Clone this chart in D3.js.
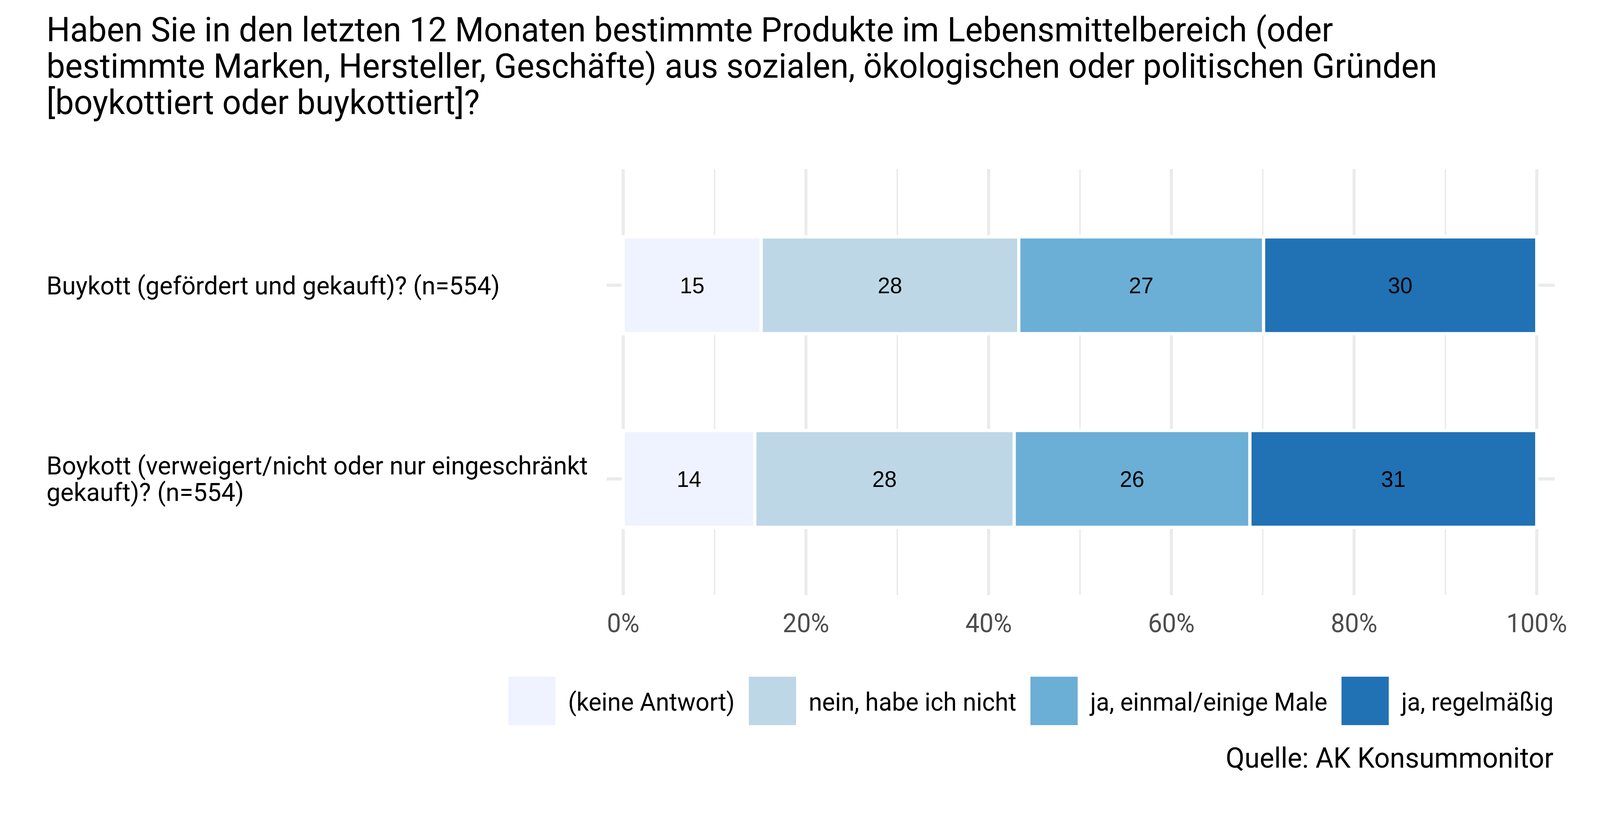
<!DOCTYPE html>
<html>
<head>
<meta charset="utf-8">
<script src="https://cdn.jsdelivr.net/npm/d3@7"></script>
<style>
  html, body { margin: 0; padding: 0; background: #fff; overflow: hidden; }
  svg { display: block; width: 100vw; height: 100vh; }
  text { font-family: Roboto, "Noto Sans", sans-serif; }
</style>
</head>
<body>
<svg id="chart"></svg>
<script>
const titleLines = [
  "Haben Sie in den letzten 12 Monaten bestimmte Produkte im Lebensmittelbereich (oder",
  "bestimmte Marken, Hersteller, Geschäfte) aus sozialen, ökologischen oder politischen Gründen",
  "[boykottiert oder buykottiert]?"
];
const categories = ["buykott", "boykott"];
const categoryLabels = [
  ["Buykott (gefördert und gekauft)? (n=554)"],
  ["Boykott (verweigert/nicht oder nur eingeschränkt", "gekauft)? (n=554)"]
];
const answers = ["(keine Antwort)", "nein, habe ich nicht", "ja, einmal/einige Male", "ja, regelmäßig"];
const colors = ["#eff3ff", "#bdd7e7", "#6baed6", "#2171b5"];
// percent per answer, same order as answers
const buykottValues = [15.1, 28.2, 26.8, 29.9];
const boykottValues = [14.4, 28.4, 25.8, 31.4];
const xTicks = [0, 20, 40, 60, 80, 100];
const xMinorTicks = [10, 30, 50, 70, 90];
const caption = "Quelle: AK Konsummonitor";

const width = 4200, height = 2100;
const panel = {left: 1592, right: 4081, top: 433, bottom: 1524};

// viewBox stretched over the whole window so nothing is cut off
const svg = d3.select("#chart")
    .attr("viewBox", [0, 0, width, height])
    .attr("preserveAspectRatio", "none");

svg.append("rect")
    .attr("width", width)
    .attr("height", height)
    .attr("fill", "#fff");

const x = d3.scaleLinear()
    .domain([0, 100])
    .range([1636, 4034]);

const y = d3.scaleBand()
    .domain(categories)
    .range([panel.top, panel.bottom])
    .paddingInner(0.5)
    .paddingOuter(0.35);

// stack the rows
const rows = [buykottValues, boykottValues].map((vals, i) => {
    let acc = 0;
    return vals.map((v, j) => {
        const seg = {cat: categories[i], answer: j, value: v, x0: acc, x1: acc + v};
        acc += v;
        return seg;
    });
});

// grid
const grid = svg.append("g");
grid.selectAll(".hgrid")
    .data(categories)
    .join("line")
    .attr("x1", panel.left)
    .attr("x2", panel.right)
    .attr("y1", d => y(d) + y.bandwidth() / 2)
    .attr("y2", d => y(d) + y.bandwidth() / 2)
    .attr("stroke", "#ebebeb")
    .attr("stroke-width", 8);

grid.selectAll(".minor")
    .data(xMinorTicks)
    .join("line")
    .attr("x1", d => x(d))
    .attr("x2", d => x(d))
    .attr("y1", panel.top)
    .attr("y2", panel.bottom)
    .attr("stroke", "#ebebeb")
    .attr("stroke-width", 4);

grid.selectAll(".major")
    .data(xTicks)
    .join("line")
    .attr("x1", d => x(d))
    .attr("x2", d => x(d))
    .attr("y1", panel.top)
    .attr("y2", panel.bottom)
    .attr("stroke", "#ebebeb")
    .attr("stroke-width", 8);

// bars
const bars = svg.append("g");
bars.selectAll("rect")
    .data(rows.flat())
    .join("rect")
    .attr("x", d => x(d.x0))
    .attr("width", d => x(d.x1) - x(d.x0))
    .attr("y", d => y(d.cat))
    .attr("height", y.bandwidth())
    .attr("fill", d => colors[d.answer])
    .attr("stroke", "#fff")
    .attr("stroke-width", 8.4);

bars.selectAll("text")
    .data(rows.flat())
    .join("text")
    .attr("x", d => (x(d.x0) + x(d.x1)) / 2)
    .attr("y", d => y(d.cat) + y.bandwidth() / 2)
    .attr("dy", "0.36em")
    .attr("text-anchor", "middle")
    .style("font-family", "'Liberation Sans', Arial, sans-serif")
    .style("font-size", "58px")
    .attr("fill", "#000")
    .text(d => Math.round(d.value));

// x axis labels
svg.append("g")
    .selectAll("text")
    .data(xTicks)
    .join("text")
    .attr("x", d => x(d))
    .attr("y", 1619)
    .attr("text-anchor", "middle")
    .style("font-size", "66px")
    .attr("fill", "#4d4d4d")
    .text(d => d + "%");

// y axis labels
const yLab = svg.append("g");
categories.forEach((c, i) => {
    const lines = categoryLabels[i];
    const cy = y(c) + y.bandwidth() / 2;
    const lh = 68;
    const first = cy + 23 - (lines.length - 1) * lh / 2;
    const t = yLab.append("text")
        .attr("x", 122)
        .attr("y", first)
        .style("font-size", "65.5px")
        .attr("fill", "#000");
    lines.forEach((l, k) => {
        t.append("tspan")
            .attr("x", 122)
            .attr("y", first + k * lh)
            .text(l);
    });
});

// title
const title = svg.append("g");
titleLines.forEach((l, k) => {
    title.append("text")
        .attr("x", 122)
        .attr("y", 106 + k * 93)
        .style("font-size", "87px")
        .attr("fill", "#000")
        .text(l);
});

// legend, right aligned
const legend = svg.append("g");
const keySize = 124, keyGap = 33, itemGap = 37, legendRight = 4078;
const items = answers.map((a, i) => {
    const t = legend.append("text")
        .attr("y", 1820)
        .style("font-size", "64px")
        .attr("fill", "#000")
        .text(a);
    return {t, w: t.node().getComputedTextLength(), i};
});
let cursor = legendRight;
for (let k = items.length - 1; k >= 0; k--) {
    const it = items[k];
    const tx = cursor - it.w;
    it.t.attr("x", tx);
    const kx = tx - keyGap - keySize;
    legend.append("rect")
        .attr("x", kx)
        .attr("y", 1733)
        .attr("width", keySize)
        .attr("height", keySize)
        .attr("fill", colors[it.i]);
    cursor = kx - itemGap;
}

// caption
svg.append("text")
    .attr("x", 4078)
    .attr("y", 1966)
    .attr("text-anchor", "end")
    .style("font-size", "72px")
    .attr("fill", "#000")
    .text(caption);
</script>
</body>
</html>
